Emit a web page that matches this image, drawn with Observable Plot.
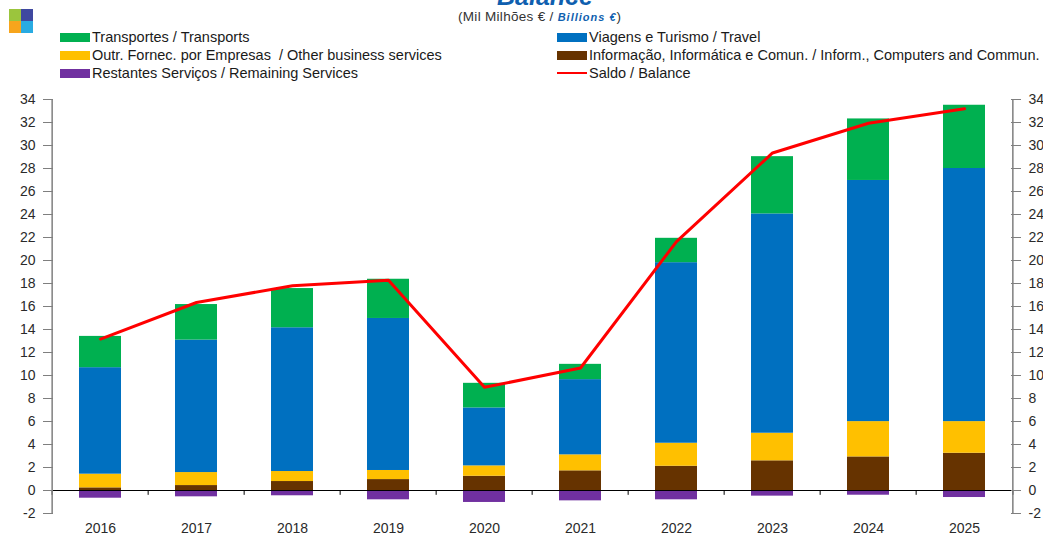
<!DOCTYPE html>
<html>
<head>
<meta charset="utf-8">
<script src="https://cdn.jsdelivr.net/npm/d3@7"></script>
<script src="https://cdn.jsdelivr.net/npm/@observablehq/plot@0.6"></script>
<style>
  html, body { margin: 0; padding: 0; background: #fff; }
  body { width: 1043px; height: 536px; overflow: hidden; font-family: "Liberation Sans", Arial, sans-serif; }
  #head { position: relative; width: 1043px; height: 85px; overflow: hidden; }
  .abs { position: absolute; white-space: pre; }
  .leg { position: absolute; height: 18px; display: flex; align-items: center; font-size: 14.5px; color: #1a1a1a; white-space: pre; }
  .sw { display: inline-block; margin-right: 2px; }
  #chart svg { display: block; }
</style>
</head>
<body>
<div id="head">
  <div class="abs" style="left:9px;top:9px;width:12px;height:12px;background:#9BC53D"></div>
  <div class="abs" style="left:21px;top:9px;width:12px;height:12px;background:#3F48A0"></div>
  <div class="abs" style="left:9px;top:21px;width:12px;height:12px;background:#F7A51C"></div>
  <div class="abs" style="left:21px;top:21px;width:12px;height:12px;background:#29ABE2"></div>
  <div class="abs" style="left:497px;top:-16px;font-size:25px;line-height:25px;font-weight:bold;font-style:italic;color:#0F5FAF">Balance</div>
  <div class="abs" style="left:458px;top:10px;font-size:13.5px;line-height:13px;color:#333;letter-spacing:0.3px">(Mil Milhões € / <span style="font-weight:bold;font-style:italic;color:#0F5FAF;font-size:11px;letter-spacing:1px">Billions €</span>)</div>
</div>
<div id="chart"></div>
<script>
// ---- data ----
const years = ["2016", "2017", "2018", "2019", "2020", "2021", "2022", "2023", "2024", "2025"];
const seriesNames = [
  "Informação, Informática e Comun. / Inform., Computers and Commun.",
  "Outr. Fornec. por Empresas  / Other business services",
  "Viagens e Turismo / Travel",
  "Transportes / Transports",
  "Restantes Serviços / Remaining Services"
];
const seriesColors = ["#663300", "#FFC000", "#0070C0", "#00B050", "#7030A0"];
const inform     = [0.23, 0.43, 0.78, 0.95, 1.24, 1.71, 2.11, 2.58, 2.92, 3.24];
const otherBus   = [1.19, 1.13, 0.87, 0.79, 0.90, 1.39, 2.00, 2.40, 3.07, 2.75];
const travel     = [9.26, 11.52, 12.50, 13.22, 5.04, 6.54, 15.70, 19.07, 20.97, 22.01];
const transports = [2.72, 3.09, 3.41, 3.41, 2.14, 1.33, 2.12, 4.98, 5.35, 5.50];
const remaining  = [-0.67, -0.55, -0.46, -0.81, -1.04, -0.90, -0.81, -0.49, -0.41, -0.61];
const balance    = [13.17, 16.35, 17.80, 18.29, 8.97, 10.65, 21.64, 29.35, 31.93, 33.19];
const balanceName = "Saldo / Balance";
const balanceColor = "#FF0000";
const yTicks = [-2, 0, 2, 4, 6, 8, 10, 12, 14, 16, 18, 20, 22, 24, 26, 28, 30, 32, 34];

// ---- legend (HTML, built from the arrays) ----
const head = document.getElementById("head");
const legendItems = [
  {name: seriesNames[3], color: seriesColors[3], col: 0, row: 0},
  {name: seriesNames[1], color: seriesColors[1], col: 0, row: 1},
  {name: seriesNames[4], color: seriesColors[4], col: 0, row: 2},
  {name: seriesNames[2], color: seriesColors[2], col: 1, row: 0},
  {name: seriesNames[0], color: seriesColors[0], col: 1, row: 1},
  {name: balanceName, color: balanceColor, col: 1, row: 2, line: true}
];
const colX = [60, 557];
legendItems.forEach(it => {
  const d = document.createElement("div");
  d.className = "leg";
  d.style.left = colX[it.col] + "px";
  d.style.top = (28 + it.row * 18) + "px";
  const s = document.createElement("span");
  s.className = "sw";
  s.style.width = "30px";
  s.style.height = it.line ? "2.5px" : "9px";
  s.style.background = it.color;
  d.appendChild(s);
  d.appendChild(document.createTextNode(it.name));
  head.appendChild(d);
});

// ---- chart ----
const valuesBySeries = [inform, otherBus, travel, transports, remaining];
const tidy = [];
seriesNames.forEach((s, si) => years.forEach((y, i) => tidy.push({year: y, series: s, value: valuesBySeries[si][i]})));
const balanceData = years.map((y, i) => ({year: y, value: balance[i]}));

const W = 1043, ML = 48, MR = 28;
const half = (W - ML - MR) / years.length / 2;
const axisGray = "#7f7f7f";
const fmt = d => String(d);

const chart = Plot.plot({
  width: W,
  height: 451,
  marginLeft: ML,
  marginRight: MR,
  marginTop: 14,
  marginBottom: 23,
  style: {fontFamily: "Liberation Sans, Arial, sans-serif", fontSize: "14px", color: "#2a2a2a", background: "#fff"},
  x: {domain: years, paddingInner: 0.565, paddingOuter: 0.2825, label: null},
  y: {domain: [-2, 34], label: null},
  color: {domain: seriesNames, range: seriesColors},
  marks: [
    Plot.barY(tidy, {x: "year", y: "value", fill: "series", z: "series"}),
    Plot.ruleY([0], {stroke: "#000", strokeWidth: 1.2}),
    Plot.ruleX(years, {x: d => d, y1: 0, y2: -0.42, dx: -half, stroke: "#000"}),
    Plot.ruleX([years[years.length - 1]], {x: d => d, y1: 0, y2: -0.42, dx: half, stroke: "#000"}),
    Plot.ruleX([years[0]], {x: d => d, y1: -2, y2: 34, dx: -half, stroke: axisGray, strokeWidth: 1.5}),
    Plot.ruleX([years[years.length - 1]], {x: d => d, y1: -2, y2: 34, dx: half, stroke: axisGray, strokeWidth: 1.5}),
    Plot.axisY({anchor: "left", ticks: yTicks, tickFormat: fmt, label: null, tickSize: 10, dx: 5, tickPadding: 8, stroke: axisGray, fill: "#2a2a2a", fontSize: 14}),
    Plot.axisY({anchor: "right", ticks: yTicks, tickFormat: fmt, label: null, tickSize: 10, dx: -5, tickPadding: 8, stroke: axisGray, fill: "#2a2a2a", fontSize: 14}),
    Plot.axisX({anchor: "bottom", label: null, tickSize: 0, tickPadding: 10, fill: "#2a2a2a", fontSize: 14}),
    Plot.line(balanceData, {x: "year", y: "value", stroke: balanceColor, strokeWidth: 3})
  ]
});
document.getElementById("chart").appendChild(chart);
</script>
</body>
</html>
